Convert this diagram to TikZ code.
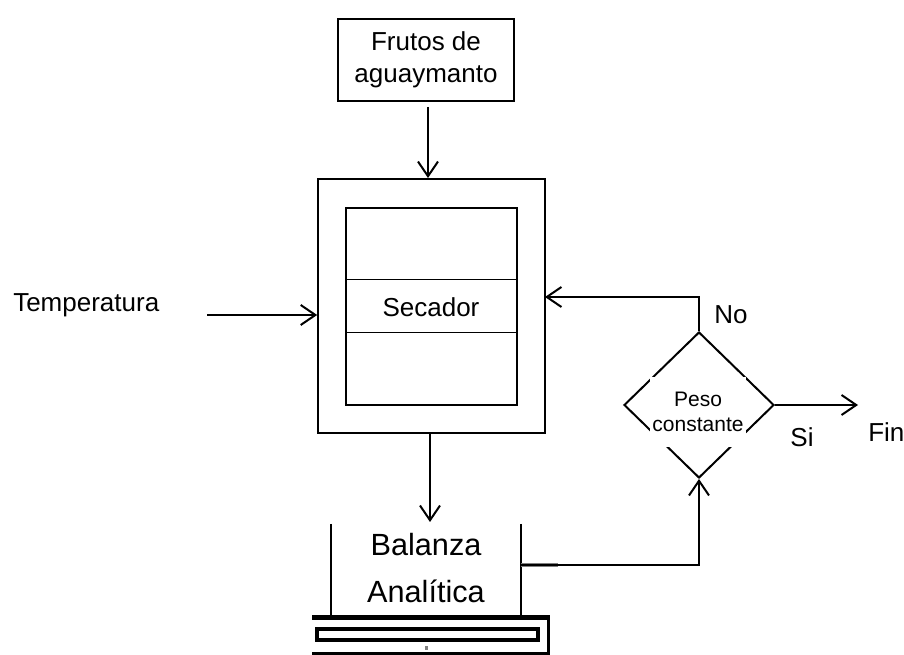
\documentclass[tikz,border=0pt]{standalone}
\usepackage{fontspec}
\setmainfont{Liberation Sans}
\usetikzlibrary{shapes.geometric,arrows.meta}

\begin{document}
\begin{tikzpicture}[x=0.75pt,y=0.75pt,yscale=-1,xscale=1,
  flow/.style={line width=1.5pt,-{Straight Barb[length=11pt,width=15pt]}},
  txt/.style={inner sep=0.75pt,font=\fontsize{19.5}{24}\selectfont,align=center},
  caja/.style={draw,line width=1.5pt,minimum width=#1}]
\useasboundingbox (0,0) rectangle (904,655);

% Text Node
\node (frutos) [draw,line width=0.8pt,minimum width=132pt,minimum height=61.5pt,txt] at (426,60) {Frutos de\\aguaymanto};

%Shape: Secador
\node (secador) [caja=170pt,minimum height=190.5pt] at (431.5,306) {};
\node (interior) [caja=128pt,minimum height=147.75pt,line width=1.3pt] at (431.5,306.5) {};
\draw [line width=0.7pt] (interior.west |- 0,279) -- (interior.east |- 0,279) ;
\draw [line width=0.7pt] (interior.west |- 0,332) -- (interior.east |- 0,332) ;
\node (secadortxt) [txt] at (431,307) {Secador};

% Text Node
\node (temp) [txt,anchor=west] at (12,305) {Temperatura};
\coordinate (tin) at (207,315);
\draw [flow] (tin) -- (tin -| secador.west) ;

%Straight Lines
\coordinate (fruout) at (428,107);
\draw [flow] (fruout) -- (fruout |- secador.north) ;

%Shape: Diamond
\node (peso) [draw,diamond,line width=1.5pt,minimum width=112.5pt,minimum height=109.5pt,inner sep=0pt] at (699,405) {};
\node (pesotxt) [fill=white,minimum width=72pt,minimum height=52.5pt,inner sep=0pt,align=center,font=\fontsize{15.75}{18.75}\selectfont] at (698,412) {Peso\\constante};

\coordinate (retorno) at (545,297);
\draw [flow] (peso.north) |- (retorno) ;
\node (no) [txt,anchor=west] at (713,315) {No};

\draw [flow] (peso.east) -- ++(83,0) ;
\node (si) [txt] at (802,437) {Si};
\node (fintxt) [txt,anchor=west] at (867,432) {Fin};

%Shape: Balanza
\coordinate (entrada) at (430,522);
\draw [flow] (entrada |- secador.south) -- (entrada) ;
\node (balanza) [minimum width=142.5pt,minimum height=68.25pt,inner sep=0pt,align=center,font=\fontsize{23}{35}\selectfont] at (426,568) {Balanza\\Analítica};
\draw [line width=1.8pt] (balanza.north west |- 0,524) -- (balanza.west |- 0,615) ;
\draw [line width=1.8pt] (balanza.north east |- 0,524) -- (balanza.east |- 0,615) ;
\fill (312,615) rectangle (550,620) ;
\draw [line width=3pt] (317,629) rectangle (538,640) ;
\draw [line width=2.3pt] (312,653.5) -- (548.5,653.5) -- (548.5,615) ;
\fill [gray] (425,646) rectangle (428,650) ;

\coordinate (salida) at (521,565);
\draw [gray,line width=3pt] (salida) -- (558,565) ;
\draw [flow] (salida) -| (peso.south) ;

\end{tikzpicture}
\end{document}
